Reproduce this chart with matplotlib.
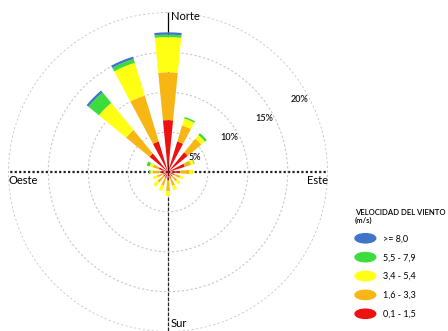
import numpy as np
import matplotlib.pyplot as plt
import matplotlib.patches as mpatches
from matplotlib.legend_handler import HandlerPatch

plt.rcParams['font.family'] = ['Lato', 'DejaVu Sans']

# 16 directions, clockwise from north
directions = ['N', 'NNE', 'NE', 'ENE', 'E', 'ESE', 'SE', 'SSE',
              'S', 'SSW', 'SW', 'WSW', 'W', 'WNW', 'NW', 'NNW']
speed_labels = ['0,1 - 1,5', '1,6 - 3,3', '3,4 - 5,4', '5,5 - 7,9', '>= 8,0']
colors = ['#ee1111', '#f7b614', '#ffff14', '#3ddc3d', '#3f74c8']

# frequency (%) per speed class and direction
f_01_15 = [6.5, 4.0, 3.2, 2.2, 1.5, 0.8, 0.7, 0.8, 1.0, 0.8, 0.8, 0.7, 1.0, 1.2, 3.0, 4.0]
f_16_33 = [6.0, 2.1, 2.2, 0.8, 1.2, 0.8, 0.8, 1.0, 1.4, 1.0, 0.9, 0.7, 0.8, 0.8, 3.8, 6.0]
f_34_54 = [4.4, 0.9, 0.6, 0.4, 0.4, 0.4, 0.5, 0.6, 0.6, 0.7, 0.7, 0.6, 0.4, 0.4, 4.4, 4.3]
f_55_79 = [0.3, 0.2, 0.3, 0.1, 0.0, 0.0, 0.0, 0.0, 0.0, 0.0, 0.0, 0.0, 0.2, 0.4, 1.7, 0.5]
f_80 = [0.3, 0.0, 0.0, 0.0, 0.0, 0.0, 0.0, 0.0, 0.0, 0.0, 0.0, 0.0, 0.0, 0.0, 0.3, 0.3]
series = [f_01_15, f_16_33, f_34_54, f_55_79, f_80]

rings = [5, 10, 15, 20]
ring_labels = ['5%', '10%', '15%', '20%']
rmax = 20


def make_ellipse(legend, orig_handle, xdescent, ydescent, width, height, fontsize):
    return mpatches.Ellipse(xy=(0.5 * width - xdescent, 0.5 * height - ydescent),
                            width=width, height=height)


fig = plt.figure(figsize=(4.48, 3.31), dpi=100)
ax = fig.add_axes([8 / 448, -1 / 331, 320 / 448, 320 / 331], projection='polar')
ax.set_theta_zero_location('N')
ax.set_theta_direction(-1)

theta = np.deg2rad(np.arange(len(directions)) * 22.5)
width = np.deg2rad(11.25)

# cross lines
ax.plot([0, 0], [0, rmax], color='black', lw=0.9, zorder=1)
ax.plot([np.pi, np.pi], [0, rmax], color='#222222', lw=0.9, ls=(0, (3, 1)), zorder=1)
for t in [np.pi / 2, 3 * np.pi / 2]:
    ax.plot([t, t], [0, rmax], color='#222222', lw=1.6, ls=(0, (1, 1)), zorder=1)

bottom = np.zeros(len(directions))
handles = []
for vals, col, lab in zip(series, colors, speed_labels):
    vals = np.array(vals)
    ax.bar(theta, vals, width=width, bottom=bottom, color=col, edgecolor='none',
           zorder=2, label=lab)
    bottom += vals
    handles.append(mpatches.Patch(color=col, label=lab))

ax.set_ylim(0, rmax + 0.05)
ax.set_yticks(rings)
ax.set_yticklabels([])
ax.set_xticks([])
ax.yaxis.grid(True, color='#c8c8c8', ls=(0, (2, 2)), lw=0.8)
ax.xaxis.grid(False)
ax.spines['polar'].set_visible(False)

for r, lab in zip(rings, ring_labels):
    ax.text(np.deg2rad(61), r - 1.2, lab, fontsize=6.5, color='#111111',
            fontweight='semibold', ha='center', va='center', zorder=3)

ax.annotate('Norte', xy=(0, rmax), xytext=(2, 1), textcoords='offset points',
            ha='left', va='top', fontsize=8)
ax.annotate('Sur', xy=(np.pi, rmax), xytext=(2, 2), textcoords='offset points',
            ha='left', va='bottom', fontsize=8)
ax.annotate('Oeste', xy=(3 * np.pi / 2, rmax), xytext=(0, -2), textcoords='offset points',
            ha='left', va='top', fontsize=8)
ax.annotate('Este', xy=(np.pi / 2, rmax), xytext=(0, -2), textcoords='offset points',
            ha='right', va='top', fontsize=8)

leg = fig.legend(handles=handles[::-1], loc='upper left',
                 bbox_to_anchor=(355 / 448, 1 - 209 / 331),
                 title='VELOCIDAD DEL VIENTO\n(m/s)',
                 title_fontproperties={'size': 5.6, 'weight': 'semibold'},
                 fontsize=6.5, frameon=False, alignment='left',
                 handlelength=2.3, handleheight=1.2, handletextpad=0.8,
                 labelspacing=1.02, borderpad=0, borderaxespad=0,
                 handler_map={mpatches.Patch: HandlerPatch(patch_func=make_ellipse)})

fig.savefig('out.png', dpi=100)
